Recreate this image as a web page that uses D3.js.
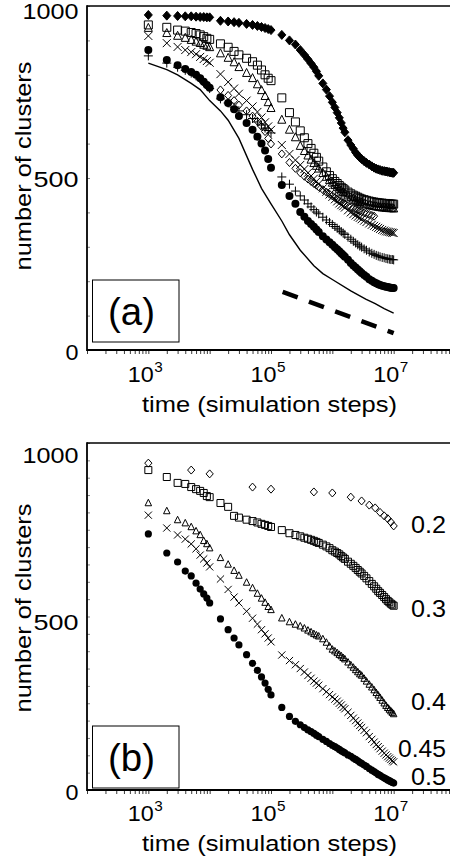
<!DOCTYPE html>
<html><head><meta charset="utf-8">
<script src="https://cdn.jsdelivr.net/npm/d3@7"></script>
<style>html,body{margin:0;padding:0;background:#fff;overflow:hidden}svg{display:block}text{font-family:"Liberation Sans",Arial,Helvetica,sans-serif;fill:#000}</style>
</head><body><svg id="chart" width="450" height="863"></svg>
<script>
// ---------- DATA ----------
const G1 = [1e3,2e3,3e3,4e3,5e3,6e3,7e3,8e3,9e3,1e4];
const G2 = [1.5e4,2e4,2.5e4,3e4,4e4,5e4,6e4,7e4,8e4,9e4,1e5];
const G3 = [1.5e5,2e5,2.5e5,3e5,3.5e5,4e5,4.5e5,5e5,5.5e5,6e5,7e5,8e5,9e5,1e6,1.1e6,1.2e6,1.3e6,1.4e6,1.5e6,1.6e6,1.8e6,2e6,2.2e6,2.4e6,2.6e6,2.8e6,3e6,3.3e6,3.6e6,4e6,4.4e6,4.8e6,5.2e6,5.6e6,6e6,6.5e6,7e6,7.5e6,8e6,8.5e6,9e6,9.5e6,1e7];
const TIMES = [...G1, ...G2, ...G3];

// panel (a)
const A_filledDiamond = [974,972,971,970,970,969,968,968,967,967, 957,955,953,951,948,945,942,939,936,933,930,
  916,900,888,872,858,845,833,822,810,797,775,757,738,720,705,690,675,660,645,633,610,596,585,574,566,560,555,549,544,539,534,530,527,525,523,521,520,519,518,517,516,515,515];
const A_square = [945,938,930,927,923,920,916,911,906,903, 890,880,868,858,848,838,828,814,800,790,783,
  733,690,663,637,617,600,586,572,560,549,532,518,507,498,490,484,478,473,469,465,459,454,450,447,444,441,439,437,435,433,431,430,429,428,427,427,426,426,425,425,424,424,424];
const A_triangle = [936,921,913,907,901,896,892,887,884,880, 862,849,836,822,805,790,772,755,738,720,703,
  669,640,618,593,578,565,553,543,535,527,514,503,494,486,479,473,468,463,459,455,449,444,440,436,433,430,428,425,423,421,419,418,417,416,415,414,414,413,413,412,412,412,411];
const A_cross = [913,892,881,872,866,860,852,846,840,835, 802,779,760,745,725,708,692,676,662,650,640,
  596,570,552,538,526,515,506,498,490,483,470,460,452,445,438,432,426,421,418,414,406,400,395,391,387,384,380,376,372,368,364,361,358,355,352,349,347,345,344,343,342,341,340];
const A_openDiamond = [null,null,null,null,null,null,null,null,null,null, 756,740,725,712,695,680,665,650,635,615,599,
  570,545,528,515,505,497,490,484,479,474,466,459,453,448,443,438,434,431,428,425,420,416,412,409,406,404,402,399,397,394,391,389,null,null,null,null,null,null,null,null,null,null,null];
const A_plus = [855,834,822,813,805,797,788,778,769,760, 730,718,706,695,684,673,663,654,645,638,631,
  503,482,462,448,436,425,416,408,401,396,386,378,371,365,359,354,349,344,340,336,328,322,316,311,306,302,299,294,290,285,281,278,275,273,271,269,268,266,265,264,263,263,262];
const A_circle = [872,843,828,817,808,800,790,780,770,762, 735,718,700,680,660,640,620,600,580,555,530,
  480,448,425,401,387,375,366,358,350,343,331,321,313,306,299,293,287,281,276,271,262,253,246,240,234,229,224,218,213,206,201,197,194,191,189,187,185,184,183,182,181,180,180];
const A_LINE_T = [1e3,2e3,3e3,5e3,7e3,1e4,1.5e4,2e4,3e4,5e4,7e4,1e5,1.5e5,2e5,3e5,5e5,7e5,1e6,2e6,3.5e6,5e6,7e6,1e7];
const A_LINE_V = [834,815,800,775,757,725,695,668,615,525,470,425,375,335,290,245,222,205,172,148,135,120,107];
const A_DASH_T = [1.55e5,1e7];
const A_DASH_V = [169,49];

// panel (b)
const B_DIAMOND_T = [1e3,5e3,1e4,5e4,1e5,5e5,1e6,2e6,3e6,4e6,5e6,6e6,7e6,8e6,9e6,1e7];
const B_diamond = [942,922,911,873,867,859,856,844,833,821,813,800,790,782,772,761];
const B_square = [922,902,885,882,873,867,862,856,847,844, 827,816,790,785,779,775,771,767,764,761,758,
  749,740,735,731,727,724,721,718,715,712,707,702,697,691,687,683,679,674,670,666,658,652,646,640,634,629,624,617,610,602,594,587,580,573,568,562,556,550,545,541,537,534,531];
const B_triangle = [827,804,778,769,758,746,735,718,709,697, 669,650,632,618,598,582,566,552,540,528,519,
  495,484,477,472,466,460,455,450,446,443,435,425,414,405,400,395,390,386,381,377,368,360,353,346,340,334,330,321,313,304,296,288,280,273,266,258,250,243,237,232,227,223,219];
const B_cross = [792,755,735,723,709,695,677,666,654,643, 608,578,556,539,515,495,478,462,450,438,427,
  389,373,361,350,340,330,322,314,308,302,292,283,275,268,262,256,250,245,238,234,224,215,207,200,193,186,180,172,165,154,146,138,131,125,119,112,106,101,96,92,88,84,81];
const B_circle = [738,683,657,631,617,596,579,565,553,539, 493,462,438,418,390,365,345,326,308,290,274,
  238,212,198,188,180,173,168,163,158,154,146,140,134,129,125,121,117,113,110,107,101,97,92,88,84,80,77,72,68,62,57,53,49,45,42,38,35,32,29,27,24,22,20];
const B_LABELS = ["0.2","0.3","0.4","0.45","0.5"];

const X_TICK_LABELS = [1e3,1e5,1e7];
const Y_TICK_LABELS = [0,500,1000];

// ---------- DRAW ----------
const svg = d3.select("#chart");
const X0 = 87;

function txt(p, s, x, y, size, len, anchor, rot) {
  const t = p.append("text").attr("font-size", size).attr("text-anchor", anchor || "start").text(s);
  if (len) t.attr("textLength", len).attr("lengthAdjust", "spacingAndGlyphs");
  if (rot) t.attr("transform", `translate(${x},${y}) rotate(-90)`);
  else t.attr("x", x).attr("y", y);
  return t;
}

const shapes = {
  diamond: (hw, hh) => `M0,${-hh}L${hw},0L0,${hh}L${-hw},0Z`,
  square: s => `M${-s/2},${-s/2}h${s}v${s}h${-s}Z`,
  triangle: s => `M0,${-s*0.58}L${s/2},${s*0.42}L${-s/2},${s*0.42}Z`,
  cross: h => `M${-h},${-h}L${h},${h}M${-h},${h}L${h},${-h}`,
  plus: h => `M${-h},0L${h},0M0,${-h}L0,${h}`
};

function panel(cfg) {
  const x = d3.scaleLog().domain([1e2, 1e8]).range([X0, 455]);
  const y = d3.scaleLinear().domain([0, 1000]).range([cfg.y0, cfg.y1]);
  const g = svg.append("g");

  const xt = [];
  for (let e = 2; e < 8; e++) for (let m = 1; m < 10; m++) xt.push(m * Math.pow(10, e));
  xt.push(1e8);
  const ax = g.append("g").attr("transform", `translate(0,${cfg.y0})`)
    .call(d3.axisBottom(x).tickValues(xt).tickFormat("").tickSize(4).tickSizeOuter(0));
  ax.select(".domain").remove();
  ax.selectAll("line").attr("stroke", "#222").attr("stroke-width", 0.9);

  const yt = d3.range(0, 1001, cfg.ystep);
  const ay = g.append("g").attr("transform", `translate(${X0},0)`)
    .call(d3.axisRight(y).tickValues(yt).tickFormat("").tickSize(3).tickSizeOuter(0));
  ay.select(".domain").remove();
  ay.selectAll("line").attr("stroke", "#666").attr("stroke-width", 0.8);

  g.append("line").attr("x1", X0).attr("x2", 450).attr("y1", cfg.y1).attr("y2", cfg.y1).attr("stroke", "#000").attr("stroke-width", 1.6);
  g.append("line").attr("x1", X0).attr("x2", 450).attr("y1", cfg.y0).attr("y2", cfg.y0).attr("stroke", "#000").attr("stroke-width", 1.8);
  g.append("line").attr("x1", X0).attr("x2", X0).attr("y1", cfg.y1 - 0.8).attr("y2", cfg.y0 + 0.9).attr("stroke", "#000").attr("stroke-width", 1.8);

  const ylen = {0: 13, 500: 45, 1000: 56};
  Y_TICK_LABELS.forEach(v => txt(g, String(v), 78.5, y(v) + cfg.yoff[v], 22, ylen[v], "end"));

  X_TICK_LABELS.forEach(v => {
    const c = x(v) - 3, e = Math.round(Math.log10(v));
    txt(g, "10", c + 8.5, cfg.xlabBase, 22, 26, "end");
    txt(g, String(e), c + 9, cfg.xlabBase - 10, 15, 8.5, "start");
  });

  txt(g, "time (simulation steps)", 269.5, cfg.titleBase, 22, 255, "middle");
  txt(g, "number of clusters", 31, cfg.ylabCenter, 22, 209, "middle", true);

  g.append("rect").attr("x", 92.5).attr("y", cfg.box).attr("width", 86.5).attr("height", 62)
    .attr("fill", "#fff").attr("stroke", "#000").attr("stroke-width", 1);
  txt(g, cfg.tag, 131.5, cfg.box + 45, 38, 47, "middle");

  return {g, x, y};
}

function drawSeries(P, times, vals, k) {
  const pts = times.map((t, i) => [t, vals[i]]).filter(d => d[1] !== null);
  const sel = P.g.append("g").selectAll("g").data(pts).join("g")
    .attr("transform", d => `translate(${P.x(d[0])},${P.y(d[1])})`);
  if (k.type === "circle") {
    sel.append("circle").attr("r", k.r).attr("fill", "#000");
  } else {
    const d = k.type === "diamond" ? shapes.diamond(k.hw, k.hh) : shapes[k.type](k.s);
    sel.append("path").attr("d", d)
      .attr("fill", k.fill ? "#000" : "none")
      .attr("stroke", "#000").attr("stroke-width", k.sw || 1);
  }
}

// ----- panel (a)
const PA = panel({y0: 350, y1: 6, ystep: 100, yoff: {0: 10, 500: 8.5, 1000: 13}, xlabBase: 382, titleBase: 412, ylabCenter: 166, box: 280, tag: "(a)"});
const line = d3.line().x(d => PA.x(d[0])).y(d => PA.y(d[1]));
PA.g.append("path").attr("d", line(A_LINE_T.map((t, i) => [t, A_LINE_V[i]])))
  .attr("fill", "none").attr("stroke", "#000").attr("stroke-width", 1.4);
PA.g.append("path").attr("d", line(A_DASH_T.map((t, i) => [t, A_DASH_V[i]])))
  .attr("fill", "none").attr("stroke", "#000").attr("stroke-width", 4.5).attr("stroke-dasharray", "16,12");
drawSeries(PA, TIMES, A_circle, {type: "circle", r: 4});
drawSeries(PA, TIMES, A_plus, {type: "plus", s: 4.5});
drawSeries(PA, TIMES, A_openDiamond, {type: "diamond", hw: 3.5, hh: 4});
drawSeries(PA, TIMES, A_cross, {type: "cross", s: 4});
drawSeries(PA, TIMES, A_triangle, {type: "triangle", s: 8});
drawSeries(PA, TIMES, A_square, {type: "square", s: 8});
drawSeries(PA, TIMES, A_filledDiamond, {type: "diamond", hw: 4, hh: 4.5, fill: true});

// ----- panel (b)
const PB = panel({y0: 790, y1: 443, ystep: 50, yoff: {0: 10, 500: 13, 1000: 20}, xlabBase: 821, titleBase: 851, ylabCenter: 608, box: 726, tag: "(b)"});
drawSeries(PB, TIMES, B_circle, {type: "circle", r: 3.6});
drawSeries(PB, TIMES, B_cross, {type: "cross", s: 3.6});
drawSeries(PB, TIMES, B_triangle, {type: "triangle", s: 6.5});
drawSeries(PB, TIMES, B_square, {type: "square", s: 7});
drawSeries(PB, B_DIAMOND_T, B_diamond, {type: "diamond", hw: 3.6, hh: 4});

const labBase = [533, 617, 710, 757, 785];
const labLen = [35, 35, 35, 48, 35];
B_LABELS.forEach((s, i) => txt(PB.g, s, 446, labBase[i], 23, labLen[i], "end"));
</script>
</body></html>
